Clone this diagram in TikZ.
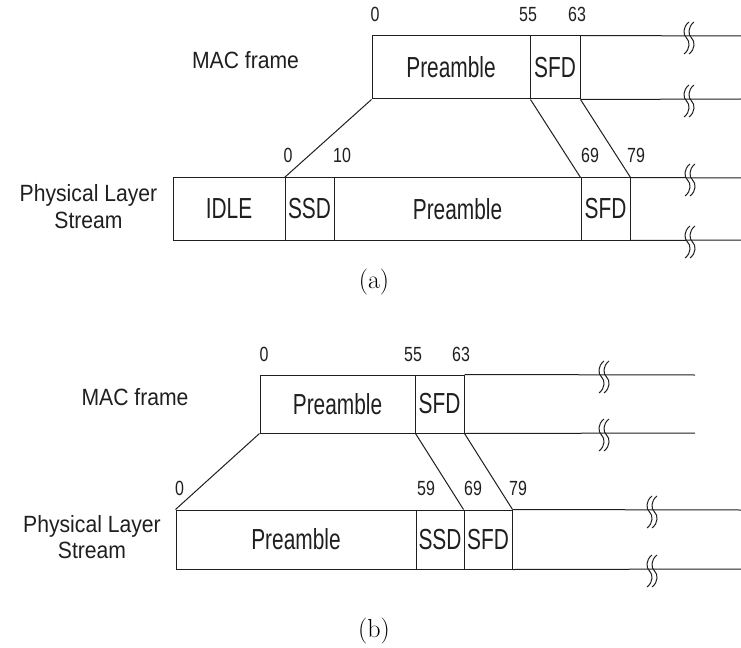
\documentclass[tikz,border=0pt]{standalone}
\usepackage{fontspec}
\newfontfamily\fieldfont[FakeStretch=0.72]{Liberation Sans}
\newfontfamily\labelfont[FakeStretch=0.9]{Liberation Sans}
\newfontfamily\numfont[FakeStretch=0.78]{Liberation Sans}
\definecolor{ink}{gray}{0.12}
\tikzset{
  field/.style={draw=ink, line width=1bp, rectangle, inner sep=0pt, text=ink,
    font=\fieldfont\fontsize{29bp}{33bp}\selectfont},
  num/.style={anchor=base, inner sep=0pt, text=ink,
    font=\numfont\fontsize{20.5bp}{23bp}\selectfont},
  lbl/.style={anchor=base, inner sep=0pt, text=ink,
    font=\labelfont\fontsize{23.5bp}{26bp}\selectfont},
  caption/.style={anchor=base, inner sep=0pt,
    font=\fontsize{26bp}{30bp}\selectfont},
  wire/.style={draw=ink, line width=1bp},
  brkline/.style={draw=ink, line width=1bp},
  brk/.pic={
    \draw[brkline] (2.5,-14) .. controls (-4,-9) and (-3.5,-1) .. (0,2)
                   .. controls (3.5,5) and (4,13) .. (-2.5,18);
    \draw[brkline] (7.5,-14) .. controls (1,-9) and (1.5,-1) .. (5,2)
                   .. controls (8.5,5) and (9,13) .. (2.5,18);
  }
}
\begin{document}
\begin{tikzpicture}[x=1bp,y=-1bp]
\useasboundingbox (0,0) rectangle (741,648);

% ---------- (a) MAC frame ----------
\node[lbl] (amaclbl) at (245.5,69) {MAC frame};
\node[field, minimum width=158bp, minimum height=63bp] (amacpre) at (451,67.5) {Preamble};
\node[field, minimum width=50bp, minimum height=63bp] (amacsfd) at (555,67.5) {SFD};
\coordinate (amacendt) at (741,36);
\coordinate (amacendb) at (741,99);
\draw[wire] (amacsfd.north east) -- (amacendt);
\draw[wire] (amacsfd.south east) -- (amacendb);
\pic at (686.5,36) {brk};
\pic at (686.5,99) {brk};
\node[num] (an0) at (375,22) {0};
\node[num] (an55) at (528,22) {55};
\node[num] (an63) at (577,22) {63};

% ---------- (a) physical layer stream ----------
\node[lbl] (apl1) at (88.5,202) {Physical Layer};
\node[lbl] (apl2) at (88.5,228) {Stream};
\node[field, minimum width=112bp, minimum height=62bp] (aidle) at (229,209) {IDLE};
\node[field, minimum width=49bp, minimum height=62bp] (assd) at (309.5,209) {SSD};
\node[field, minimum width=247bp, minimum height=62bp] (aplspre) at (457.5,209) {Preamble};
\node[field, minimum width=49bp, minimum height=62bp] (aplssfd) at (605.5,209) {SFD};
\coordinate (aplsendt) at (741,178);
\coordinate (aplsendb) at (741,240);
\draw[wire] (aplssfd.north east) -- (aplsendt);
\draw[wire] (aplssfd.south east) -- (aplsendb);
\pic at (687.5,178) {brk};
\pic at (687.5,240) {brk};
\node[num] (bn0a) at (288,163) {0};
\node[num] (bn10) at (342,163) {10};
\node[num] (bn69a) at (590,163) {69};
\node[num] (bn79a) at (636,163) {79};

% mapping lines (a)
\draw[wire] (amacpre.south west) -- (assd.north west);
\draw[wire] (amacpre.south east) -- (aplssfd.north west);
\draw[wire] (amacsfd.south east) -- (aplssfd.north east);

\node[caption] (capa) at (374,288) {(a)};

% ---------- (b) MAC frame ----------
\node[lbl] (bmaclbl) at (135,405.5) {MAC frame};
\node[field, minimum width=155bp, minimum height=58bp] (bmacpre) at (337.5,404) {Preamble};
\node[field, minimum width=49bp, minimum height=58bp] (bmacsfd) at (439.5,404) {SFD};
\coordinate (bmacendt) at (695,375);
\coordinate (bmacendb) at (695,433);
\draw[wire] (bmacsfd.north east) -- (bmacendt);
\draw[wire] (bmacsfd.south east) -- (bmacendb);
\pic at (601.5,375) {brk};
\pic at (601.5,433) {brk};
\node[num] (cn0) at (264,361) {0};
\node[num] (cn55) at (413,361) {55};
\node[num] (cn63) at (461,361) {63};

% ---------- (b) physical layer stream ----------
\node[lbl] (bpl1) at (92,532.5) {Physical Layer};
\node[lbl] (bpl2) at (92,558.5) {Stream};
\node[field, minimum width=240bp, minimum height=59bp] (bplspre) at (296,539.5) {Preamble};
\node[field, minimum width=48bp, minimum height=59bp] (bssd) at (440,539.5) {SSD};
\node[field, minimum width=48bp, minimum height=59bp] (bplssfd) at (488,539.5) {SFD};
\coordinate (bplsendt) at (741,510);
\coordinate (bplsendb) at (741,569);
\draw[wire] (bplssfd.north east) -- (bplsendt);
\draw[wire] (bplssfd.south east) -- (bplsendb);
\pic at (649.5,510) {brk};
\pic at (649.5,569) {brk};
\node[num] (dn0) at (179.5,495) {0};
\node[num] (dn59) at (426,495) {59};
\node[num] (dn69) at (473,495) {69};
\node[num] (dn79) at (518,495) {79};

% mapping lines (b)
\draw[wire] (bmacpre.south west) -- (bplspre.north west);
\draw[wire] (bmacpre.south east) -- (bplssfd.north west);
\draw[wire] (bmacsfd.south east) -- (bplssfd.north east);

\node[caption] (capb) at (374,637) {(b)};
\end{tikzpicture}
\end{document}
